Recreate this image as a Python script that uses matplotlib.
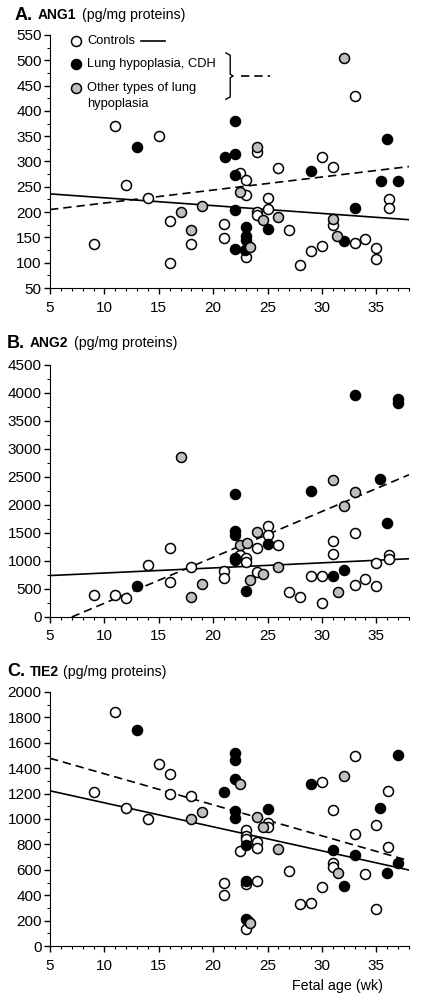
import numpy as np
import matplotlib.pyplot as plt
from matplotlib.ticker import MultipleLocator

plt.rcParams['font.family'] = ['Liberation Sans', 'DejaVu Sans']

# ---------------- data ----------------
# Panel A: ANG1
a_ctrl_x = [9, 11, 12, 14, 15, 16, 16, 18, 21, 21, 22.5, 23, 23, 23, 24, 24, 24, 25, 25,
            26, 27, 28, 29, 30, 30, 31, 31, 33, 33, 34, 35, 35, 36.2, 36.2]
a_ctrl_y = [137, 371, 254, 227, 350, 183, 100, 136, 176, 149, 277, 263, 233, 111, 319, 201,
            195, 227, 207, 288, 165, 96, 124, 133, 309, 290, 175, 430, 138, 146, 130, 107, 225, 209]
a_cdh_x = [13, 21.1, 22, 22, 22, 22, 22, 23, 23, 23, 22.9, 25, 29, 32, 33, 35.4, 36, 37]
a_cdh_y = [329, 309, 315, 381, 273, 204, 128, 171, 153, 145, 125, 166, 281, 142, 209, 261, 345, 261]
a_oth_x = [17, 18, 19, 22.5, 23.4, 24, 24.6, 26, 31, 31.4, 32]
a_oth_y = [201, 165, 212, 240, 131, 329, 184, 191, 186, 152, 504]

# Panel B: ANG2
b_ctrl_x = [9, 11, 12, 14, 16, 16, 18, 21, 21, 22.5, 23, 23, 24, 24, 25, 25, 26, 27, 28,
            29, 30, 30, 31, 31, 33, 33, 34, 35, 35, 36.2, 36.2]
b_ctrl_y = [392, 392, 335, 925, 1235, 620, 885, 830, 700, 1110, 1060, 990, 1235, 800, 1620,
            1470, 1290, 445, 366, 739, 739, 246, 1360, 1125, 1500, 577, 679, 559, 960, 1100, 1030]
b_cdh_x = [13, 22, 22, 22, 22, 22, 23, 25, 29, 31, 32, 33, 35.3, 36, 37, 37]
b_cdh_y = [545, 2190, 1530, 1470, 1050, 1010, 465, 1300, 2250, 740, 840, 3970, 2470, 1680, 3900, 3830]
b_oth_x = [17, 18, 19, 22.5, 23.1, 23.4, 24, 24.6, 26, 31, 31.5, 32, 33]
b_oth_y = [2850, 365, 589, 1280, 1320, 665, 1510, 770, 890, 2450, 445, 1980, 2230]

# Panel C: TIE2
c_ctrl_x = [9, 11, 12, 14, 15, 16, 16, 18, 21, 21, 22.5, 23, 23, 23, 23, 23, 24, 24, 24,
            25, 25, 27, 28, 29, 30, 30, 31, 31, 31, 33, 33, 34, 35, 35, 36.1, 36.1]
c_ctrl_y = [1215, 1845, 1084, 1000, 1431, 1352, 1194, 1181, 498, 402, 750, 913, 866, 840,
            487, 131, 821, 768, 512, 971, 940, 593, 328, 341, 1294, 462, 1071, 651, 625,
            1496, 882, 564, 953, 291, 1223, 777]
c_cdh_x = [13, 21, 22, 22, 22, 22, 22, 23, 23, 23, 23.2, 25, 29, 31, 32, 33, 35.3, 36, 37, 37]
c_cdh_y = [1701, 1210, 1522, 1465, 1312, 1060, 1005, 795, 515, 210, 200, 1076, 1276, 756,
           472, 717, 1089, 572, 1504, 656]
c_oth_x = [18, 19, 22.5, 23.4, 24, 24.6, 26, 31.5, 32]
c_oth_y = [998, 1057, 1276, 185, 1018, 935, 761, 572, 1339]

# regression lines (end points at 5 and 38 wk)
fit_x = [5, 38]
a_ctrl_fit = [236, 185]
a_hypo_fit = [205, 290]
b_ctrl_fit = [740, 1040]
b_hypo_fit_x = [7, 38]
b_hypo_fit = [0, 2540]
c_ctrl_fit = [1222, 598]
c_hypo_fit = [1478, 672]

W, H = 423, 1001
fig = plt.figure(figsize=(W / 100, H / 100), dpi=100)


def px_ax(top, bottom, left=50, right=409):
    return fig.add_axes([left / W, 1 - bottom / H, (right - left) / W, (bottom - top) / H])


def style(ax, lim, major, minor):
    ax.set_xlim(5, 38)
    ax.set_ylim(lim[0], lim[1])
    ax.spines['top'].set_visible(False)
    ax.spines['right'].set_visible(False)
    ax.xaxis.set_major_locator(MultipleLocator(5))
    ax.xaxis.set_minor_locator(MultipleLocator(1))
    ax.yaxis.set_major_locator(MultipleLocator(major))
    ax.yaxis.set_minor_locator(MultipleLocator(minor))
    ax.tick_params(which='major', length=4, width=1, labelsize=11, direction='out', pad=2)
    ax.tick_params(axis='x', which='major', pad=5)
    ax.tick_params(which='minor', length=2.5, width=0.8, direction='out')
    ax.set_xticks([5, 10, 15, 20, 25, 30, 35])


def scatter(ax, x, y, face):
    ax.plot(x, y, 'o', ms=7.2, mfc=face, mec='black', mew=1.1, ls='none', zorder=3)


panels = [
    (35, 288, (50, 550), 50, 25, a_ctrl_x, a_ctrl_y, a_cdh_x, a_cdh_y, a_oth_x, a_oth_y,
     fit_x, a_ctrl_fit, fit_x, a_hypo_fit),
    (365, 617, (0, 4500), 500, 250, b_ctrl_x, b_ctrl_y, b_cdh_x, b_cdh_y, b_oth_x, b_oth_y,
     fit_x, b_ctrl_fit, b_hypo_fit_x, b_hypo_fit),
    (692, 946, (0, 2000), 200, 100, c_ctrl_x, c_ctrl_y, c_cdh_x, c_cdh_y, c_oth_x, c_oth_y,
     fit_x, c_ctrl_fit, fit_x, c_hypo_fit),
]

axes = []
for (top, bot, lim, maj, mnr, cx, cy, kx, ky, ox, oy, fx1, f1, fx2, f2) in panels:
    ax = px_ax(top, bot)
    style(ax, lim, maj, mnr)
    ax.plot(fx1, f1, color='black', lw=1.2, zorder=2)
    ax.plot(fx2, f2, color='black', lw=1.2, ls=(0, (5, 3)), zorder=2)
    scatter(ax, cx, cy, 'white')
    scatter(ax, kx, ky, 'black')
    scatter(ax, ox, oy, '#bfbfbf')
    axes.append(ax)

# legend in panel A (axes fraction)
axA = axes[0]
tr = axA.transAxes
leg_y = [0.976, 0.885, 0.790]
for yy, face in zip(leg_y, ['white', 'black', '#bfbfbf']):
    axA.plot([0.072], [yy], 'o', ms=7.2, mfc=face, mec='black', mew=1.1,
             transform=tr, clip_on=False, zorder=4)
axA.text(0.103, leg_y[0], 'Controls', transform=tr, fontsize=9.3, va='center')
axA.text(0.103, leg_y[1], 'Lung hypoplasia, CDH', transform=tr, fontsize=9.3, va='center')
axA.text(0.103, leg_y[2], 'Other types of lung', transform=tr, fontsize=9.3, va='center')
axA.text(0.103, leg_y[2] - 0.062, 'hypoplasia', transform=tr, fontsize=9.3, va='center')
axA.plot([0.253, 0.320], [leg_y[0], leg_y[0]], color='black', lw=1.2, transform=tr)
# curly bracket
bx0, bx1 = 0.49, 0.502
axA.plot([bx0, bx1, bx1, bx1 + 0.008, bx1, bx1, bx0],
         [0.929, 0.920, 0.845, 0.838, 0.831, 0.755, 0.746],
         color='black', lw=1, transform=tr)
axA.plot([0.532, 0.613], [0.838, 0.838], color='black', lw=1.2, ls=(0, (5, 3)), transform=tr)

# panel titles
titles = [(15, 15, 'A.', 'ANG1'), (7, 343, 'B.', 'ANG2'), (7, 672, 'C.', 'TIE2')]
for x0, y0, letter, name in titles:
    fig.text(x0 / W, 1 - y0 / H, letter, fontsize=13, fontweight='bold', va='center')
    fig.text((x0 + 23) / W, 1 - y0 / H, name, fontsize=10, fontweight='bold', va='center')
    off = 44 if name != 'TIE2' else 33
    fig.text((x0 + 23 + off) / W, 1 - y0 / H, '(pg/mg proteins)', fontsize=10.2, va='center')

fig.text(383 / W, 1 - 986 / H, 'Fetal age (wk)', fontsize=10.3, ha='right', va='center')

fig.savefig('out.png', dpi=100)
